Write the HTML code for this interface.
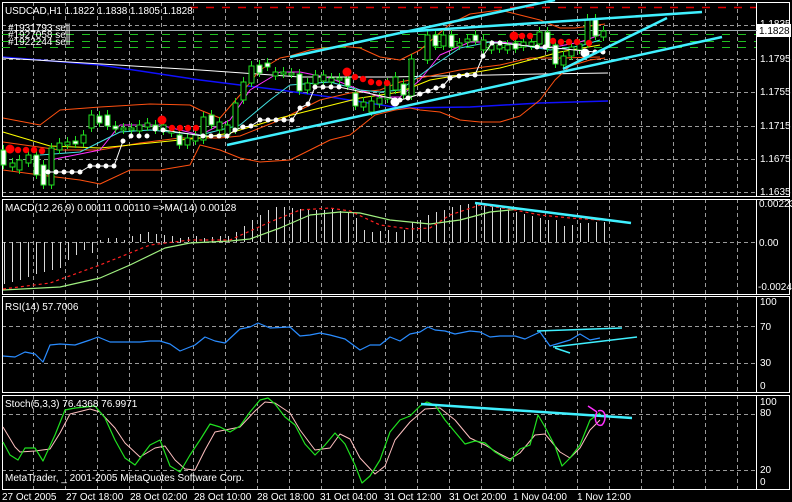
<!DOCTYPE html>
<html><head><meta charset="utf-8"><style>
html,body{margin:0;padding:0;background:#000;}
svg{display:block;}
text{font-family:"Liberation Sans",sans-serif;font-size:10px;fill:#fff;}
</style></head><body>
<svg id="c" width="792" height="502" xmlns="http://www.w3.org/2000/svg">
<rect width="792" height="502" fill="#000"/>
<g id="grid"></g>
<g id="draw"></g>
<g id="txt">
<text x="5" y="14" style="font-size:10px;letter-spacing:-0.1px">USDCAD,H1  1.1822 1.1838 1.1805 1.1828</text>
<text x="8" y="45" style="font-size:10px">#1922244 sell</text>
<text x="8" y="38" style="font-size:10px">#1927058 sell</text>
<text x="8" y="31" style="font-size:10px">#1931793 sell</text>
<text x="760" y="62">1.1795</text>
<text x="760" y="95">1.1755</text>
<text x="760" y="129">1.1715</text>
<text x="760" y="162">1.1675</text>
<text x="760" y="195">1.1635</text>
<text x="760" y="27">1.1835</text>
<rect x="757" y="24" width="34" height="13" fill="#fff"/>
<text x="759" y="34" style="fill:#000">1.1828</text>
<text x="5" y="211">MACD(12,26,9) 0.00111 0.00110  =&gt;MA(14) 0.00128</text>
<text x="759" y="207">0.00223</text>
<text x="759" y="246">0.00</text>
<text x="758" y="290">-0.00246</text>
<text x="5" y="310">RSI(14) 57.7006</text>
<text x="760" y="305">100</text>
<text x="760" y="330">70</text>
<text x="760" y="366">30</text>
<text x="760" y="389">0</text>
<text x="5" y="407">Stoch(5,3,3) 76.4368 76.9971</text>
<text x="5" y="481">MetaTrader, _ 2001-2005 MetaQuotes Software Corp.</text>
<text x="760" y="405">100</text>
<text x="760" y="416">80</text>
<text x="760" y="473">20</text>
<text x="760" y="485">0</text>
<text x="2" y="500">27 Oct 2005</text>
<text x="66" y="500">27 Oct 18:00</text>
<text x="130" y="500">28 Oct 02:00</text>
<text x="194" y="500">28 Oct 10:00</text>
<text x="257" y="500">28 Oct 18:00</text>
<text x="320" y="500">31 Oct 04:00</text>
<text x="384" y="500">31 Oct 12:00</text>
<text x="449" y="500">31 Oct 20:00</text>
<text x="513" y="500">1 Nov 04:00</text>
<text x="577" y="500">1 Nov 12:00</text>
</g>
</svg>
<script>
(function(){
var NS="http://www.w3.org/2000/svg";
var G=document.getElementById('grid'),D=document.getElementById('draw');
function el(p,tag,a){var e=document.createElementNS(NS,tag);for(var k in a)e.setAttribute(k,a[k]);p.appendChild(e);return e;}
function line(p,x1,y1,x2,y2,c,w,dash){var a={x1:x1,y1:y1,x2:x2,y2:y2,stroke:c,'stroke-width':w||1};if(dash)a['stroke-dasharray']=dash;return el(p,'line',a);}
function pl(p,pts,c,w,dash){var s=pts.map(function(q){return q[0]+','+q[1]}).join(' ');var a={points:s,fill:'none',stroke:c,'stroke-width':w||1,'stroke-linejoin':'round'};if(dash)a['stroke-dasharray']=dash;return el(p,'polyline',a);}
var panels=[[2,196],[199,294],[296,392],[395,489]];
for(var x=33;x<756;x+=32){panels.forEach(function(p){line(G,x+.5,p[0],x+.5,p[1],'#9a9a9a',1,'4,3');});}
[25,59,92,126,159,192].forEach(function(y){line(G,2,y+.5,756,y+.5,'#9a9a9a',1,'4,3');});
line(G,2,242.5,756,242.5,'#9a9a9a',1,'4,3');
[326,363].forEach(function(y){line(G,2,y+.5,756,y+.5,'#9a9a9a',1,'4,3');});
[414,470].forEach(function(y){line(G,2,y+.5,756,y+.5,'#9a9a9a',1,'4,3');});
panels.forEach(function(p){el(G,'rect',{x:2.5,y:p[0]+.5,width:787,height:p[1]-p[0],fill:'none',stroke:'#fff','stroke-width':1});line(G,756.5,p[0],756.5,p[1],'#fff',1);});
line(D,190,7.5,756,7.5,'#e00000',1.5,'8,8');
line(D,2,30.5,790,30.5,'#a0a8b0',1);
[34,41,47].forEach(function(y){line(D,2,y+.5,756,y+.5,'#20c020',1,'8,8');});
pl(D,[[3,57],[100,65],[200,80],[280,90],[330,97],[400,108],[470,107],[540,103],[608,101]],'#1010ff',1.5);
pl(D,[[3,58],[150,67],[200,70],[300,77],[390,77],[440,76],[540,74],[608,73]],'#fff',1);
pl(D,[[3,118],[40,125],[60,110],[100,107],[150,104],[190,105],[200,110],[220,118],[240,95],[260,70],[280,58],[290,56],[310,50],[340,46],[360,48],[380,57],[400,60],[420,50],[450,24],[470,14],[500,10],[520,15],[540,20],[560,28],[575,28],[590,26],[605,24]],'#ff5010',1);
pl(D,[[3,170],[40,175],[80,180],[100,184],[130,170],[160,170],[190,165],[200,145],[220,150],[240,158],[260,162],[290,160],[310,150],[330,140],[350,135],[375,115],[395,110],[410,108],[420,110],[440,112],[460,120],[480,122],[500,122],[520,116],[540,100],[555,80],[570,66],[590,60],[605,58]],'#ff5010',1);
pl(D,[[3,142],[60,150],[100,150],[140,143],[180,138],[220,138],[240,136],[280,120],[320,100],[350,93],[380,90],[400,82],[420,78],[460,70],[500,65],[530,58],[560,58],[600,57]],'#ff5010',1);
pl(D,[[3,132],[50,146],[100,148],[150,143],[200,138],[230,133],[280,118],[320,108],[360,98],[400,92],[430,80],[460,75],[500,68],[530,60],[560,52],[600,45]],'#ffff00',1);
pl(D,[[50,160],[100,150],[120,125],[160,125],[200,135],[230,120],[250,90],[280,72],[300,72],[330,78],[360,90],[380,97],[400,97],[420,80],[440,55],[470,42],[500,42],[520,44],[540,48],[560,46],[580,42],[600,35]],'#ff30ff',1);
pl(D,[[40,155],[80,152],[120,132],[150,130],[200,135],[240,125],[270,100],[290,85],[330,82],[360,90],[380,92],[400,90],[430,68],[460,48],[490,42],[520,45],[550,50],[580,46],[600,40]],'#40e0e0',1);
var C=[[3,150,165,1],[12,163,167,0],[19,160,170,0],[28,155,163,0],[36,155,175,1],[43,165,185,1],[51,148,185,0],[59,143,150,0],[67,142,145,0],[75,141,144,1],[83,135,143,0],[91,115,128,0],[99,116,123,1],[107,115,126,1],[115,126,129,1],[123,128,130,0],[131,128,130,0],[139,125,131,0],[147,123,127,0],[155,125,130,1],[163,125,131,0],[171,131,133,0],[179,135,145,1],[187,138,145,0],[195,135,141,0],[203,117,140,0],[211,115,125,1],[219,122,130,0],[227,125,135,0],[235,103,130,0],[243,82,100,0],[251,66,83,0],[259,65,73,1],[267,63,67,1],[275,72,76,0],[283,72,74,0],[291,73,74,0],[299,74,91,1],[307,83,90,0],[315,75,84,0],[323,75,81,0],[331,78,82,0],[339,78,80,0],[347,78,86,1],[355,93,106,1],[363,102,107,0],[371,101,112,0],[379,98,104,0],[387,83,99,0],[395,77,90,0],[403,84,95,1],[411,59,96,0],[427,35,60,0],[435,35,46,1],[443,35,46,0],[451,35,47,1],[459,43,46,0],[467,39,42,0],[475,35,41,1],[483,40,50,0],[491,45,50,0],[499,45,49,0],[507,45,50,0],[515,43,49,1],[523,42,47,0],[531,42,46,0],[539,32,44,0],[547,32,48,1],[555,45,64,1],[563,56,65,0],[571,47,56,0],[579,44,50,0],[587,19,44,0],[595,19,36,1],[603,31,37,0]];
C.forEach(function(c){var x=c[0];line(D,x+.5,c[1]-5,x+.5,c[2]+4,'#20e020',1);el(D,'rect',{x:x-2,y:c[1],width:5,height:Math.max(2,c[2]-c[1]),fill:c[3]?'#fff':'#000',stroke:'#20e020','stroke-width':1});});
var W=[[48,172],[56,172],[64,172],[72,172],[80,172],[90,166],[98,166],[106,166],[114,166],[123,141],[131,136],[139,136],[147,136],[155,129],[163,130],[203,136],[211,136],[219,136],[227,136],[235,130],[243,127],[251,126],[260,120],[268,120],[276,120],[284,120],[292,120],[300,108],[308,104],[315,87],[323,87],[331,87],[339,87],[400,100],[408,98],[420,94],[428,91],[436,88],[443,86],[450,78],[459,76],[467,75],[475,75],[483,56],[492,43],[500,43],[537,47],[545,47],[595,52],[603,52]];
pl(D,W.slice(0,9).concat([[123,141]]),'#fff',1);pl(D,W.slice(14,16),'#fff',1);
pl(D,W.slice(15),'#fff',1);
W.forEach(function(p){el(D,'circle',{cx:p[0],cy:p[1],r:2.5,fill:'#fff'});});
el(D,'circle',{cx:395,cy:102,r:4.5,fill:'#fff'});el(D,'circle',{cx:585,cy:53,r:4.5,fill:'#fff'});
var R=[[10,150],[18,150],[26,150],[34,150],[42,151],[172,128],[180,128],[188,128],[196,128],[355,77],[363,79],[371,82],[379,83],[387,83],[522,36],[530,36],[553,41],[561,42],[569,42],[577,42],[589,43]];
R.forEach(function(p){el(D,'circle',{cx:p[0],cy:p[1],r:3.2,fill:'#f00'});});
[[10,149],[162,120],[347,72],[514,36]].forEach(function(p){el(D,'circle',{cx:p[0],cy:p[1],r:4.5,fill:'#f00'});});
var cy='#40f0ff';
line(D,227,145,722,37,cy,2.5);line(D,290,57,400,33,cy,2.5);line(D,400,33,555,0,cy,2.5);line(D,400,32,702,12,cy,2.5);line(D,563,69,667,18,cy,2.5);
var H=[[4,284],[12,282],[20,280],[28,277],[36,274],[44,272],[52,270],[60,268],[68,260],[76,255],[84,250],[92,253],[100,240],[108,238],[116,238],[124,240],[132,236],[140,234],[148,232],[156,234],[164,235],[172,236],[180,238],[188,237],[196,236],[204,238],[212,237],[220,236],[228,236],[236,232],[244,226],[252,220],[260,215],[268,210],[276,207],[284,207],[292,208],[300,209],[308,209],[316,210],[324,210],[332,209],[340,211],[348,212],[356,218],[364,230],[372,232],[380,231],[388,230],[396,232],[404,230],[412,222],[420,220],[428,215],[436,212],[444,210],[452,207],[460,205],[468,204],[476,203],[484,204],[492,206],[500,208],[508,210],[516,212],[524,214],[532,216],[540,218],[548,220],[556,220],[564,226],[572,225],[580,223],[588,223],[596,222],[604,222]];
H.forEach(function(h){line(D,h[0]+.5,242,h[0]+.5,h[1],'#d8d8d8',1);});
pl(D,[[3,290],[60,287],[100,278],[130,265],[165,248],[190,243],[230,241],[250,239],[280,228],[310,215],[340,212],[360,213],[390,220],[430,224],[460,220],[490,212],[520,209],[550,213],[580,217],[600,220]],'#a0f080',1.2);
pl(D,[[3,289],[50,283],[100,265],[150,245],[190,240],[230,240],[270,222],[300,210],[330,208],[350,211],[380,225],[410,229],[430,228],[450,215],[480,205],[510,209],[540,215],[570,218],[600,220]],'#ff2020',1.2,'3,3');
line(D,475,203,631,223,cy,2.5);
pl(D,[[3,356],[15,357],[25,352],[35,354],[43,362],[50,345],[60,344],[75,345],[90,340],[98,337],[110,342],[140,342],[150,341],[160,341],[170,344],[180,351],[195,345],[205,337],[215,341],[225,343],[240,329],[250,327],[258,323],[270,328],[290,327],[300,336],[310,335],[320,333],[330,335],[345,339],[360,350],[370,345],[380,345],[390,337],[400,341],[410,334],[420,332],[428,327],[435,330],[445,331],[455,334],[470,331],[480,332],[490,337],[500,336],[515,336],[525,339],[540,332],[550,346],[560,343],[570,340],[580,334],[590,340],[600,338]],'#2a8cff',1.2);
line(D,537,331,622,328,cy,1.5);line(D,553,347,637,337,cy,1.5);line(D,555,348,570,353,cy,1.5);
pl(D,[[3,427],[15,447],[20,452],[35,451],[50,449],[60,433],[70,414],[90,409],[100,412],[115,428],[125,443],[140,457],[155,448],[165,446],[175,460],[185,469],[195,470],[205,450],[215,432],[225,430],[240,427],[255,411],[265,402],[275,403],[290,413],[300,430],[315,450],[330,448],[340,434],[350,439],[360,458],[375,474],[385,466],[395,440],[410,422],[425,409],[440,408],[455,420],[470,438],[485,445],[500,454],[510,459],[520,453],[535,435],[545,434],[560,452],[570,458],[580,448],[590,430],[600,420]],'#ffc0c0',1);
pl(D,[[3,442],[10,455],[18,460],[25,448],[35,448],[43,461],[55,435],[65,410],[75,408],[95,406],[105,418],[115,440],[125,458],[135,465],[150,445],[160,440],[170,466],[180,472],[190,455],[200,440],[210,424],[220,427],[230,432],[240,426],[250,412],[260,400],[268,398],[275,404],[285,417],[295,425],[305,444],[315,455],[325,445],[335,433],[345,444],[355,465],[362,483],[370,476],[380,460],[390,432],[400,420],[410,416],[420,406],[427,402],[435,405],[445,420],[455,432],[465,444],[475,441],[485,443],[495,452],[510,461],[520,449],[530,445],[538,415],[545,427],[555,446],[562,466],[570,458],[580,445],[590,420],[600,413]],'#20e020',1.2);
line(D,421,404,632,418,cy,2.5);
el(D,'path',{d:'M588,406 L597,412 M598,411 C606,408 607,420 602,425 C597,427 593,420 597,412',fill:'none',stroke:'#ff30ff','stroke-width':1.5});
})();
</script>
</body></html>
